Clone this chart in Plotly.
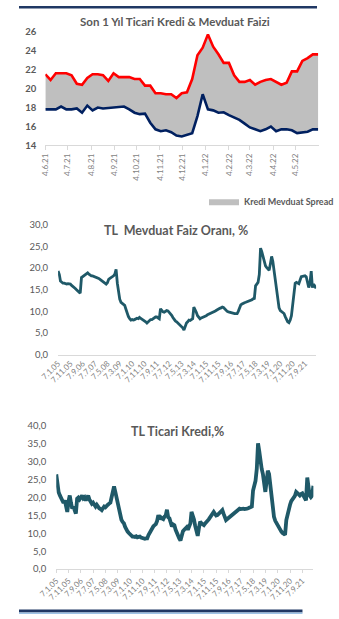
import plotly.graph_objects as go
import pandas as pd

W, H = 339, 619
def px(x): return x / W
def py(y): return 1 - y / H

# ---------------- Data: chart 1 (weekly, last 1 year) ----------------
week_dates = pd.date_range("2021-06-04", periods=53, freq="7D")
kredi_1y = [21.5, 20.9, 21.6, 21.6, 21.6, 21.4, 20.5, 20.4, 21.1, 21.5,
            21.5, 21.4, 20.8, 21.6, 21.2, 21.2, 21.2, 21.0, 21.0, 20.3,
            20.3, 19.5, 19.5, 19.4, 19.4, 19.0, 19.5, 19.6, 21.0, 23.5,
            24.3, 25.7, 24.4, 23.6, 22.7, 22.7, 21.4, 20.7, 20.7, 20.9,
            20.4, 20.7, 20.9, 21.0, 20.7, 20.4, 20.6, 21.8, 21.8, 22.9,
            23.2, 23.6, 23.6]
mevduat_1y = [17.8, 17.8, 17.8, 18.1, 17.8, 17.8, 17.9, 17.45, 18.2, 17.7,
              18.0, 17.9, 17.95, 18.0, 18.1, 18.1, 17.8, 17.45, 17.3, 17.35,
              16.4, 15.7, 15.5, 15.6, 15.4, 15.05, 14.95, 15.15, 15.3, 17.1,
              19.4, 17.8, 17.7, 17.45, 17.5, 17.2, 16.95, 16.7, 16.3, 15.9,
              15.7, 15.5, 15.7, 16.0, 15.5, 15.7, 15.7, 15.6, 15.3, 15.35,
              15.45, 15.7, 15.7]
x1_labels = ["4.6.21", "4.7.21", "4.8.21", "4.9.21", "4.10.21", "4.11.21",
             "4.12.21", "4.1.22", "4.2.22", "4.3.22", "4.4.22", "4.5.22"]

# ---------------- Data: charts 2 & 3 (monthly, 2005-2022) ----------------
month_dates = pd.date_range("2005-01-07", periods=210, freq=pd.DateOffset(months=1))
mevduat_hist = [
    19.3, 18.5, 17.0, 16.6, 16.5, 16.5, 16.4, 16.3, 16.4, 16.3, 16.3, 16.0,
    15.8, 15.6, 15.3, 15.0, 14.7, 14.5, 14.2, 17.8, 18.0, 18.2, 18.3, 18.5,
    18.9, 18.6, 18.4, 18.2, 18.2, 18.1, 18.0, 17.9, 17.8, 17.6, 17.4, 17.2,
    17.0, 16.7, 16.5, 16.3, 16.6, 17.4, 17.6, 17.8, 18.0, 18.2, 18.6, 19.7,
    16.5, 14.0, 12.8, 12.1, 11.8, 11.5, 11.4, 10.5, 9.5, 8.8, 8.3, 8.0,
    8.1, 8.0, 8.1, 8.2, 8.4, 8.3, 8.6, 8.4, 8.2, 8.0, 8.0, 7.6,
    7.3, 7.6, 7.9, 8.1, 8.1, 8.3, 8.6, 8.7, 8.7, 8.5, 8.3, 10.6,
    10.2, 9.9, 9.8, 10.0, 10.2, 10.1, 9.8, 9.4, 9.1, 8.6, 8.1, 7.8,
    7.6, 7.3, 7.0, 6.8, 6.6, 6.2, 5.7, 6.6, 7.3, 7.6, 8.0, 7.9,
    8.1, 8.3, 11.0, 10.5, 9.8, 9.0, 8.5, 8.3, 8.5, 8.6, 8.8, 8.9,
    9.0, 9.2, 9.3, 9.4, 9.6, 9.8, 9.9, 10.0, 10.2, 10.4, 10.5, 10.7,
    10.8, 11.0, 10.9, 10.6, 10.2, 10.0, 9.9, 9.8, 9.7, 9.6, 9.6, 9.5,
    9.5, 9.5, 10.0, 10.8, 11.5, 11.7, 11.9, 12.0, 12.1, 12.2, 12.3, 12.4,
    12.6, 12.7, 12.9, 13.0, 15.9, 16.2, 16.7, 18.5, 24.6, 23.8, 22.7, 21.5,
    20.5, 20.1, 19.8, 19.5, 21.0, 22.7, 21.5, 19.3, 17.0, 14.8, 12.5, 10.8,
    10.2, 10.0, 9.8, 9.5, 8.8, 8.2, 7.6, 7.4, 8.0, 9.0, 12.0, 14.8,
    16.5, 16.7, 16.6, 16.4, 17.2, 18.0, 18.1, 18.2, 18.2, 18.0, 17.0, 15.5,
    16.5, 19.3, 15.5, 16.3, 15.8, 15.3]
ticari_hist = [
    26.5, 23.0, 21.5, 20.6, 20.0, 19.5, 18.5, 19.2, 17.5, 16.0, 19.0, 20.6,
    18.5, 16.9, 17.5, 16.5, 15.5, 19.7, 20.0, 19.5, 20.4, 20.6, 19.8, 20.1,
    19.2, 20.0, 20.6, 19.5, 18.8, 18.3, 18.6, 18.0, 17.5, 18.0, 17.2, 17.0,
    16.8, 16.5, 17.0, 17.5, 17.3, 17.8, 18.0, 18.3, 18.6, 20.1, 22.5, 23.1,
    21.6, 20.0, 18.3, 16.0, 14.6, 13.8, 13.2, 12.8, 11.8, 11.0, 10.5, 10.1,
    9.6, 9.3, 9.1, 9.1, 9.0, 9.2, 8.9, 9.0, 9.1, 8.8, 8.6, 8.4,
    8.5, 8.6, 8.6, 9.5, 10.1, 11.0, 11.7, 12.0, 12.3, 12.6, 13.5, 15.1,
    14.0, 14.5, 14.2, 14.0, 14.7, 15.0, 16.6, 14.5, 14.2, 12.8, 11.9, 12.5,
    12.3, 11.0, 10.1, 9.5, 8.6, 8.0, 9.5, 10.6, 11.0, 11.2, 11.7, 11.0,
    11.9, 12.8, 16.0, 15.0, 13.9, 12.0, 10.5, 9.3, 11.5, 13.3, 12.8, 12.5,
    12.3, 12.8, 13.0, 13.5, 13.9, 14.5, 15.0, 15.5, 16.0, 15.5, 15.0, 15.1,
    15.5, 15.8, 16.0, 16.5, 15.5, 14.5, 13.7, 14.0, 14.3, 14.6, 14.7, 15.0,
    15.3, 15.7, 16.0, 16.3, 16.6, 16.9, 16.8, 17.0, 16.9, 16.8, 17.0, 16.9,
    17.0, 17.2, 17.3, 17.5, 22.0, 23.0, 24.7, 28.0, 35.2, 33.0, 29.3, 28.0,
    26.5, 24.0, 21.6, 24.5, 27.5, 26.6, 23.0, 20.1, 17.0, 14.6, 13.5, 12.8,
    12.3, 11.5, 11.0, 10.5, 10.1, 9.8, 9.6, 13.7, 15.5, 17.0, 18.0, 19.0,
    19.5, 19.7, 20.5, 21.6, 21.2, 20.8, 20.6, 21.0, 21.2, 20.5, 20.0, 19.2,
    25.6, 22.0, 20.6, 20.1, 20.5, 23.3]
hist_labels = ["7.1.05", "7.11.05", "7.9.06", "7.7.07", "7.5.08", "7.3.09",
               "7.1.10", "7.11.10", "7.9.11", "7.7.12", "7.5.13", "7.3.14",
               "7.1.15", "7.11.15", "7.9.16", "7.7.17", "7.5.18", "7.3.19",
               "7.1.20", "7.11.20", "7.9.21"]

def parse(lbl):
    d, m, y = lbl.split(".")
    return pd.Timestamp(2000 + int(y), int(m), int(d))

FONT = "Lato"
GRAY_T = "#595959"
GRAY_L = "#7f7f7f"
TEAL = "#1f5968"

fig = go.Figure()

# Chart 1: spread area between deposit and loan rate
fig.add_trace(go.Scatter(x=week_dates, y=mevduat_1y, mode="lines",
                         line=dict(width=0), showlegend=False, hoverinfo="skip",
                         xaxis="x", yaxis="y"))
fig.add_trace(go.Scatter(x=week_dates, y=kredi_1y, mode="lines", fill="tonexty",
                         fillcolor="#bfbfbf", line=dict(width=0, color="#bfbfbf"),
                         name="Kredi Mevduat Spread", xaxis="x", yaxis="y"))
fig.add_trace(go.Scatter(x=week_dates, y=kredi_1y, mode="lines",
                         line=dict(color="#ff0000", width=2.6), showlegend=False,
                         xaxis="x", yaxis="y"))
fig.add_trace(go.Scatter(x=week_dates, y=mevduat_1y, mode="lines",
                         line=dict(color="#002060", width=2.6), showlegend=False,
                         xaxis="x", yaxis="y"))

# Chart 2
fig.add_trace(go.Scatter(x=month_dates, y=mevduat_hist, mode="lines",
                         line=dict(color=TEAL, width=2.8), showlegend=False,
                         xaxis="x2", yaxis="y2"))
# Chart 3
fig.add_trace(go.Scatter(x=month_dates, y=ticari_hist, mode="lines",
                         line=dict(color=TEAL, width=3.8), showlegend=False,
                         xaxis="x3", yaxis="y3"))

tickfont_x = dict(family=FONT, size=8, color=GRAY_L)
tickfont_y = dict(family=FONT, size=9.5, color=GRAY_T)

fig.update_layout(
    width=W, height=H, margin=dict(l=0, r=0, t=0, b=0),
    paper_bgcolor="white", plot_bgcolor="white",
    separators=",.",
    showlegend=True,
    legend=dict(x=px(204), y=py(184), xanchor="left", yanchor="top",
                font=dict(family=FONT, size=9, color=GRAY_T, weight="bold"),
                bgcolor="rgba(0,0,0,0)", itemwidth=30),
    xaxis=dict(domain=[px(29), px(330)], anchor="y", type="date",
               range=[pd.Timestamp("2021-06-04"), pd.Timestamp("2022-06-04")],
               tickvals=[parse(l) for l in x1_labels], ticktext=x1_labels,
               tickangle=-90, tickfont=tickfont_x, showgrid=False, zeroline=False,
               showline=True, linecolor="#d9d9d9", linewidth=1,
               ticks="outside", ticklen=4, tickcolor="#d9d9d9"),
    yaxis=dict(domain=[py(142), py(26)], anchor="x", range=[14, 26],
               tickvals=[14, 16, 18, 20, 22, 24, 26], showgrid=False, zeroline=False,
               showline=False, ticklabelstandoff=8,
               tickfont=dict(family=FONT, size=9.5, color=GRAY_T, weight="bold")),
    xaxis2=dict(domain=[px(43), px(327)], anchor="y2", type="date",
                range=[pd.Timestamp("2005-01-07"), pd.Timestamp("2022-06-07")],
                tickvals=[parse(l) for l in hist_labels], ticktext=hist_labels,
                tickangle=-45, tickfont=tickfont_x, showgrid=False, zeroline=False,
                showline=True, linecolor="#d9d9d9", linewidth=1, ticks=""),
    yaxis2=dict(domain=[py(355), py(222.7)], anchor="x2", range=[0, 30],
                tickvals=[0, 5, 10, 15, 20, 25, 30], tickformat=".1f",
                showgrid=False, zeroline=False, showline=False,
                ticklabelstandoff=9, tickfont=tickfont_y),
    xaxis3=dict(domain=[px(41), px(324)], anchor="y3", type="date",
                range=[pd.Timestamp("2005-01-07"), pd.Timestamp("2022-06-07")],
                tickvals=[parse(l) for l in hist_labels], ticktext=hist_labels,
                tickangle=-45, tickfont=tickfont_x, showgrid=False, zeroline=False,
                showline=True, linecolor="#d9d9d9", linewidth=1,
                ticks="outside", ticklen=3, tickcolor="#d9d9d9"),
    yaxis3=dict(domain=[py(573.3), py(427.7)], anchor="x3", range=[0, 40],
                tickvals=[0, 5, 10, 15, 20, 25, 30, 35, 40], tickformat=".1f",
                showgrid=False, zeroline=False, showline=False,
                ticklabelstandoff=9, tickfont=tickfont_y),
)

title_font = dict(family=FONT, size=12, color=GRAY_T, weight="bold")
for text, x, y, sz in [("Son 1 Yıl Ticari Kredi & Mevduat Faizi", 172, 16, 11.5),
                       ("TL  Mevduat Faiz Oranı, %", 173, 229, 12.5),
                       ("TL Ticari Kredi,%", 174, 433, 12.5)]:
    f = dict(title_font); f["size"] = sz
    fig.add_annotation(text=text, x=px(x), y=py(y), xref="paper", yref="paper",
                       showarrow=False, xanchor="center", yanchor="middle", font=f)

# decorative border lines
fig.add_shape(type="rect", xref="paper", yref="paper", x0=0, x1=px(328),
              y0=py(2.5), y1=1, fillcolor="#203864", line=dict(width=0))
fig.add_shape(type="rect", xref="paper", yref="paper", x0=0, x1=px(312),
              y0=py(617.5), y1=py(614.5), fillcolor="#203864", line=dict(width=0))
fig.add_shape(type="rect", xref="paper", yref="paper", x0=0, x1=px(312),
              y0=0, y1=py(617.5), fillcolor="#9dc3e6", line=dict(width=0))

fig.write_html("out.html")
